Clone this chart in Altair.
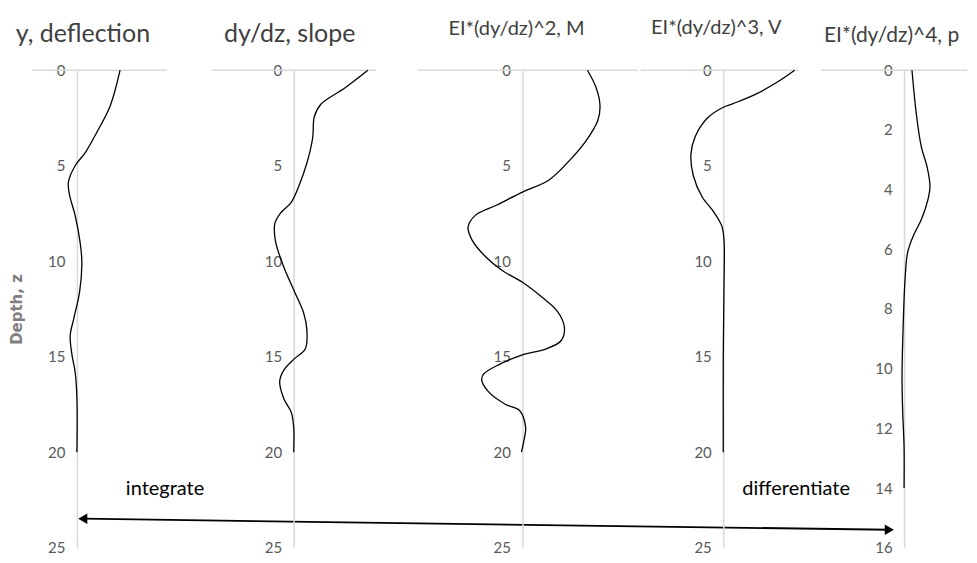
import altair as alt
import pandas as pd

FONT = "Lato"

# ---- data (depth z, value) ----
titles = ["y, deflection", "dy/dz, slope", "EI*(dy/dz)^2, M", "EI*(dy/dz)^3, V", "EI*(dy/dz)^4, p"]

d1 = [0, 1.87, 3.26, 4.3, 5.0, 5.87, 6.57, 7.6, 9.0, 10.05, 11.6, 13.0, 13.9, 14.9, 15.8, 17.2, 20]
v1 = [0.96, 0.74, 0.44, 0.19, -0.04, -0.19, -0.16, -0.04, 0.07, 0.11, 0.06, -0.07, -0.15, -0.11, -0.04, 0, 0]

d2 = [0, 0.93, 1.78, 2.43, 3.55, 4.86, 5.98, 6.92, 7.48, 8.04, 8.97, 10.3, 11.6, 12.7, 13.6, 14.6, 15.1,
      15.7, 16.3, 17.2, 17.9, 18.7, 20]
v2 = [0.9, 0.62, 0.33, 0.25, 0.23, 0.16, 0.07, -0.03, -0.16, -0.23, -0.22, -0.12, 0.01, 0.12, 0.16, 0.14, 0.01,
      -0.12, -0.17, -0.12, -0.03, 0, 0]

d3 = [0, 0.87, 1.83, 2.62, 3.67, 4.72, 5.76, 6.38, 7.07, 7.6, 8.21, 8.91, 9.78, 10.5, 11.1, 11.9, 12.6, 13.45,
      14.15, 14.6, 14.9, 15.4, 15.9, 16.2, 16.8, 17.5, 17.8, 18.7, 19.2, 20]
v3 = [0.62, 0.70, 0.74, 0.72, 0.61, 0.45, 0.25, 0, -0.25, -0.45, -0.52, -0.48, -0.35, -0.19, 0, 0.19, 0.33, 0.40,
      0.37, 0.22, 0, -0.22, -0.37, -0.39, -0.33, -0.16, -0.03, 0.03, 0.02, -0.01]

d4 = [0, 0.62, 1.28, 1.75, 1.94, 2.5, 3.44, 4.38, 5.5, 6.64, 7.4, 8.15, 8.9, 11.2, 14.9, 20]
v4 = [0.95, 0.72, 0.42, 0.13, 0, -0.21, -0.37, -0.43, -0.40, -0.28, -0.13, -0.02, 0.01, 0.01, 0, 0]

d5 = [0, 1.46, 2.57, 3.24, 3.9, 4.35, 5.0, 5.57, 6.1, 7.0, 8.7, 10.3, 11.45, 12.6, 14]
v5 = [0.11, 0.17, 0.24, 0.32, 0.36, 0.33, 0.24, 0.125, 0.05, 0.014, -0.014, -0.028, -0.019, 0, 0]

depths = [d1, d2, d3, d4, d5]
values = [v1, v2, v3, v4, v5]
depth_max = [25, 25, 25, 25, 16]
depth_step = [5, 5, 5, 5, 2]

# horizontal axis extents (value units) and scale domains
line_ext = [[-1.0, 2.0], [-1.0, 1.0], [-1.0, 1.1], [-1.1, 1.0], [-1.15, 0.88]]
x_domains = [[-1.533, 2.511], [-1.261, 1.261], [-1.193, 1.116], [-1.117, 1.170], [-1.29, 0.888]]

# annotation values
arrow_x = [0.13, 18.07]          # in panel-1 value units
arrow_depth = [23.48, 24.06]
note_text = ["integrate", "differentiate"]
note_x = [1.96, 0.97]            # panel 1 / panel 4 value units
note_depth = [21.9, 21.9]

# ---- layout (pixels) ----
widths = [182, 208, 242, 172, 157]
axis_offsets = [-69, -104, -125, -84, -93]
title_sizes = [25, 25, 20, 20, 21]
title_offsets = [-4, -4, 8, 9, 0]
title_dx = [-16, -4, -2, -9, 2]
H = 478

GRAY_LINE = "#d9d9d9"


def panel(i):
    xs = alt.Scale(domain=x_domains[i], nice=False, zero=False)
    ys = alt.Scale(domain=[0, depth_max[i]], reverse=True, nice=False, zero=False)
    axis_kw = dict(
        values=list(range(0, depth_max[i] + 1, depth_step[i])),
        offset=axis_offsets[i], ticks=False, grid=False,
        domainColor=GRAY_LINE, domainWidth=1.5,
        labelFont=FONT, labelFontSize=15, labelColor="#595959", labelPadding=12,
    )
    if i == 0:
        axis_kw.update(title="Depth, z", titleFont="DejaVu Sans", titleFontSize=15, titleFontWeight="bold",
                       titleColor="#808080", titleX=-60, titleY=239, titleAngle=270,
                       titleAlign="center", titleBaseline="middle")
    else:
        axis_kw.update(title=None)
    yaxis = alt.Axis(**axis_kw)

    top_df = pd.DataFrame({"a": [line_ext[i][0]], "b": [line_ext[i][1]], "z": [0]})
    top = alt.Chart(top_df).mark_rule(color=GRAY_LINE, strokeWidth=1.5).encode(
        x=alt.X("a:Q", scale=xs, axis=None), x2="b:Q",
        y=alt.Y("z:Q", scale=ys, axis=yaxis),
    )
    df = pd.DataFrame({"depth": depths[i], "val": values[i], "k": range(len(depths[i]))})
    curve = alt.Chart(df).mark_line(color="black", strokeWidth=1.3, interpolate="catmull-rom").encode(
        x=alt.X("val:Q", scale=xs, axis=None),
        y=alt.Y("depth:Q", scale=ys, axis=yaxis),
        order="k:Q",
    )
    layers = [top, curve]
    if i == 0:
        adf = pd.DataFrame({"x": [arrow_x[0]], "x2": [arrow_x[1]], "y": [arrow_depth[0]], "y2": [arrow_depth[1]]})
        arrow = alt.Chart(adf).mark_rule(color="black", strokeWidth=1.8).encode(
            x=alt.X("x:Q", scale=xs, axis=None), x2="x2:Q",
            y=alt.Y("y:Q", scale=ys, axis=yaxis), y2="y2:Q",
        )
        hdf = pd.DataFrame({"x": arrow_x, "y": arrow_depth, "shape": ["triangle-left", "triangle-right"]})
        heads = alt.Chart(hdf).mark_point(filled=True, color="black", opacity=1, size=110).encode(
            x=alt.X("x:Q", scale=xs, axis=None),
            y=alt.Y("y:Q", scale=ys, axis=yaxis),
            shape=alt.Shape("shape:N", scale=None, legend=None),
        )
        tdf = pd.DataFrame({"x": [note_x[0]], "y": [note_depth[0]], "t": [note_text[0]]})
        txt = alt.Chart(tdf).mark_text(font=FONT, fontSize=20, color="black", align="center", baseline="middle").encode(
            x=alt.X("x:Q", scale=xs, axis=None), y=alt.Y("y:Q", scale=ys, axis=yaxis), text="t:N")
        layers += [arrow, heads, txt]
    if i == 3:
        tdf = pd.DataFrame({"x": [note_x[1]], "y": [note_depth[1]], "t": [note_text[1]]})
        txt = alt.Chart(tdf).mark_text(font=FONT, fontSize=20, color="black", align="center", baseline="middle").encode(
            x=alt.X("x:Q", scale=xs, axis=None), y=alt.Y("y:Q", scale=ys, axis=yaxis), text="t:N")
        layers += [txt]
    return alt.layer(*layers).properties(
        width=widths[i], height=H,
        title=alt.TitleParams(text=titles[i], font=FONT, fontSize=title_sizes[i], fontWeight="normal",
                              color="#404040", anchor="middle", frame="group", dx=title_dx[i],
                              offset=title_offsets[i], baseline="alphabetic"),
    )


chart = alt.hconcat(*[panel(i) for i in range(5)], spacing=0, bounds="flush").properties(
    padding={"left": 0, "top": 10, "right": 0, "bottom": 0}
).configure_view(stroke=None)

chart.save("out.html", embed_options={"renderer": "svg", "actions": False})
